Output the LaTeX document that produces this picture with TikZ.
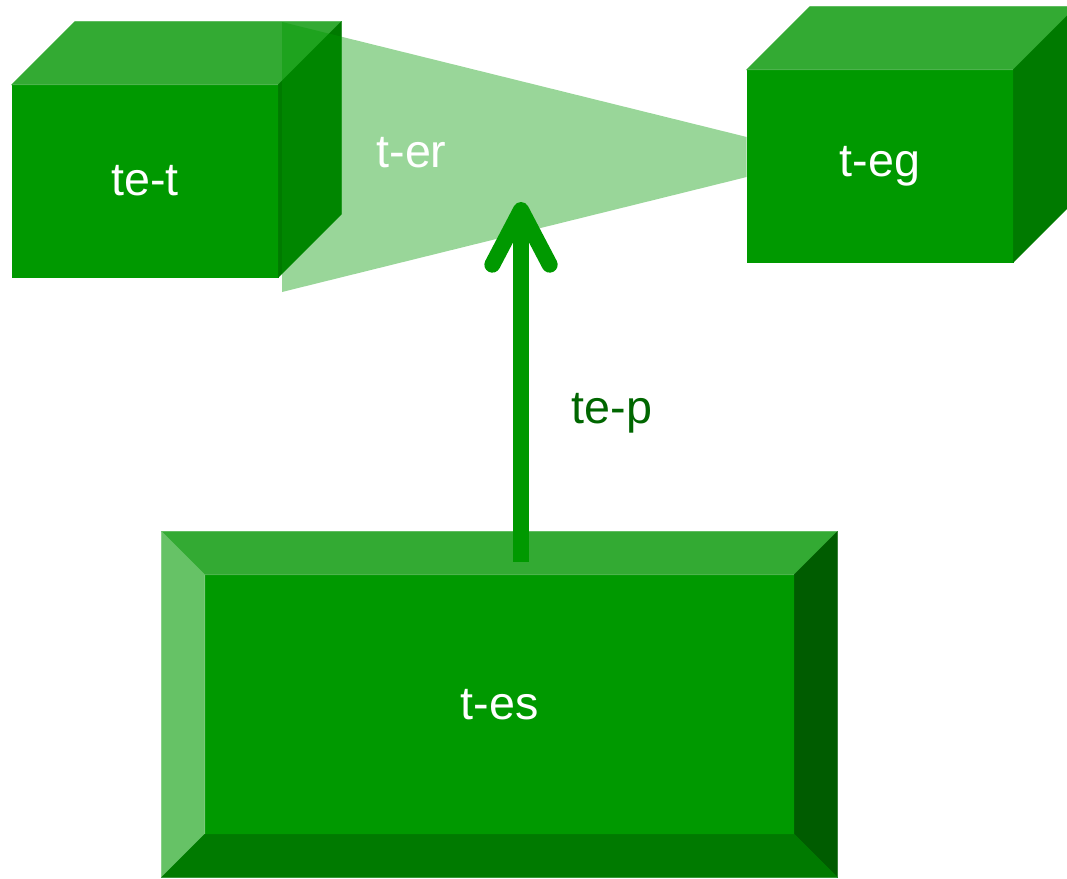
\documentclass[tikz,border=0pt]{standalone}
\usepackage{fontspec}
\setmainfont{Liberation Sans}
\usepackage{tikz}
\usetikzlibrary{positioning,calc,arrows.meta}
\definecolor{faceCol}{RGB}{0, 153, 0}
\definecolor{topCol}{RGB}{51, 170, 51}
\definecolor{sideCol}{RGB}{0, 122, 0}
\definecolor{leftCol}{RGB}{102, 194, 102}
\definecolor{rightCol}{RGB}{0, 92, 0}
\definecolor{labelCol}{RGB}{0, 102, 0}
\tikzset{myFront/.style={fill=faceCol, draw=faceCol, line width=0.4pt, inner sep=0pt, text=white, font=\fontsize{35}{42}\selectfont}}
\tikzset{myTop/.style={fill=topCol, draw=topCol, line width=0.4pt}}
\tikzset{mySide/.style={fill=sideCol, draw=sideCol, line width=0.4pt}}
\tikzset{myBand/.style={fill=faceCol, fill opacity=0.4}}
\tikzset{myPush/.style={draw=faceCol, line width=12pt, -{Straight Barb[length=41pt, width=43pt, round]}}}
\tikzset{myLabel/.style={anchor=base, inner sep=0pt, font=\fontsize{35}{42}\selectfont}}
\newcommand{\cubeDepth}{63}
\newcommand{\bevelW}{43}

\begin{document}
\begin{tikzpicture}[x=0.75pt,y=-0.75pt]
	\useasboundingbox (0,0) rectangle (1067,878);

	% left cube
	\node[myFront, minimum width=199.5pt, minimum height=144pt] (tet) at (145,181) {te-t};
	\filldraw[myTop] (tet.north west) -- ++(\cubeDepth,-\cubeDepth) -- ($(tet.north east)+(\cubeDepth,-\cubeDepth)$) -- (tet.north east) -- cycle;
	\filldraw[mySide] (tet.north east) -- ++(\cubeDepth,-\cubeDepth) -- ($(tet.south east)+(\cubeDepth,-\cubeDepth)$) -- (tet.south east) -- cycle;

	% right cube
	\node[myFront, minimum width=199.5pt, minimum height=144pt] (teg) at (880,166) {t-eg};
	\filldraw[myTop] (teg.north west) -- ++(\cubeDepth,-\cubeDepth) -- ($(teg.north east)+(\cubeDepth,-\cubeDepth)$) -- (teg.north east) -- cycle;
	\filldraw[mySide] (teg.north east) -- ++(\cubeDepth,-\cubeDepth) -- ($(teg.south east)+(\cubeDepth,-\cubeDepth)$) -- (teg.south east) -- cycle;

	% band between the cubes
	\fill[myBand] (282,22) -- (teg.west |- 0,137) -- (teg.west |- 0,177) -- (282,292) -- cycle;
	\node[myLabel, text=white] (ter) at (411.5,167) {t-er};

	% bevelled box
	\node[myFront, minimum width=441.75pt, minimum height=194.25pt] (tes) at (499.5,704.5) {t-es};
	\filldraw[myTop] (tes.north west) -- ++(-\bevelW,-\bevelW) -- ($(tes.north east)+(\bevelW,-\bevelW)$) -- (tes.north east) -- cycle;
	\filldraw[fill=leftCol, draw=leftCol, line width=0.4pt] (tes.north west) -- ++(-\bevelW,-\bevelW) -- ($(tes.south west)+(-\bevelW,\bevelW)$) -- (tes.south west) -- cycle;
	\filldraw[fill=rightCol, draw=rightCol, line width=0.4pt] (tes.north east) -- ++(\bevelW,-\bevelW) -- ($(tes.south east)+(\bevelW,\bevelW)$) -- (tes.south east) -- cycle;
	\filldraw[mySide] (tes.south west) -- ++(-\bevelW,\bevelW) -- ($(tes.south east)+(\bevelW,\bevelW)$) -- (tes.south east) -- cycle;

	% push arrow
	\coordinate (pin) at (521,202);
	\draw[myPush] ([yshift=9.75pt]tes.north -| pin) -- (pin);
	\node[myLabel, text=labelCol] (tep) at (612,423) {te-p};
\end{tikzpicture}
\end{document}
